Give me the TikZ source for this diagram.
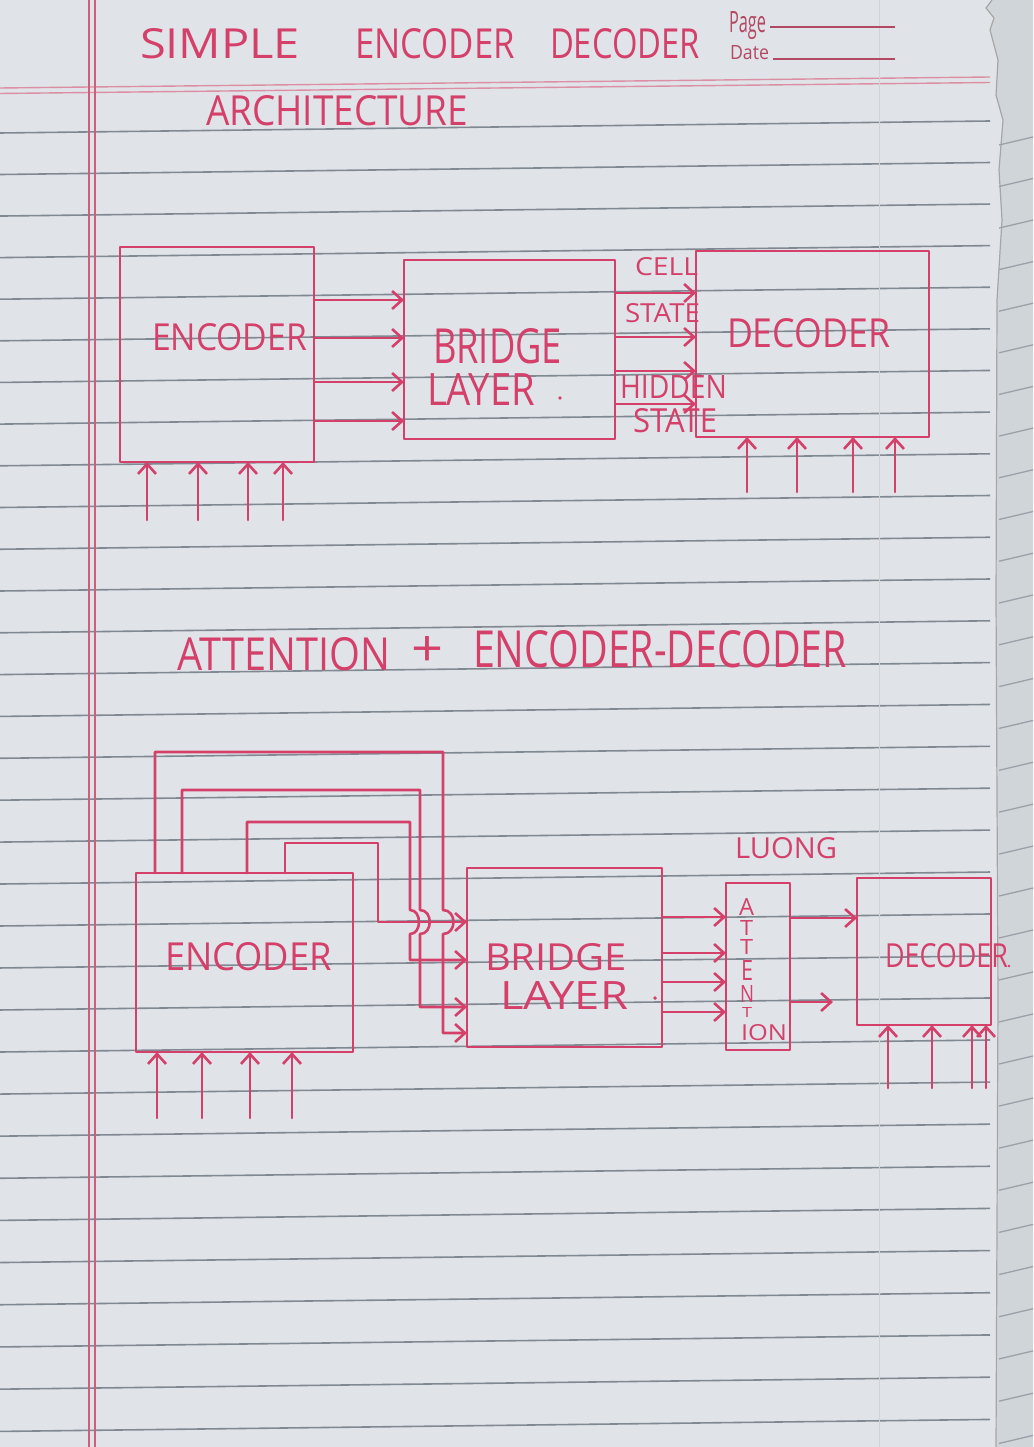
\documentclass[tikz,border=0pt]{standalone}
\usepackage{fontspec}
\setmainfont{Open Sans}
\usepackage{graphicx}
\usetikzlibrary{arrows.meta}
\definecolor{ink}{RGB}{212,64,106}
\definecolor{paper}{RGB}{224,228,232}
\definecolor{rulegray}{RGB}{128,137,146}
\definecolor{marginred}{RGB}{205,95,125}
\definecolor{printed}{RGB}{178,72,98}
\definecolor{strip}{RGB}{208,213,218}
\newcommand{\hw}[3]{\resizebox{#1pt}{#2pt}{#3}}
\begin{document}
\begin{tikzpicture}[x=1pt,y=-1pt,
  ink/.style={draw=ink,line width=2.6pt,line cap=round,line join=round},
  box/.style={ink,rectangle,inner sep=0pt,outer sep=0pt},
  arr/.style={ink,-{Straight Barb[length=10pt,width=18pt]}},
  txt/.style={text=ink,inner sep=0pt,outer sep=0pt,anchor=north west},
  prt/.style={text=printed,inner sep=0pt,outer sep=0pt,anchor=north west},
  dotmark/.style={circle,fill=ink,inner sep=1.4pt}]
% ---------- page ----------
\fill[paper] (0,0) rectangle (1033,1447);
\useasboundingbox (0,0) rectangle (1033,1447);
\fill[strip] (992,0) -- (986,8) -- (994,18) -- (990,30) -- (998,60) -- (996,95) -- (1003,120) -- (999,170) -- (1002,220) -- (997,300) -- (996,600) -- (998,1000) -- (996,1447) -- (1033,1447) -- (1033,0) -- cycle;
\draw[gray!70,line width=1.2pt] (992,0) -- (986,8) -- (994,18) -- (990,30) -- (998,60) -- (996,95) -- (1003,120) -- (999,170) -- (1002,220) -- (997,300) -- (996,600) -- (998,1000) -- (996,1447);
\foreach \k in {0,...,31}{
  \pgfmathsetmacro{\yy}{133+41.5*\k+0.0124*\k*\k}
  \draw[rulegray,line width=1.6pt] (0,\yy) -- (990,\yy-12);
  \draw[rulegray!80,line width=1.3pt] (999,\yy+12) -- (1033,\yy+4);
}
\draw[marginred!70,line width=1.4pt] (0,88) -- (990,77);
\draw[marginred!70,line width=1.4pt] (0,93.5) -- (990,82.5);
\draw[marginred,line width=1.1pt] (89,0) -- (89,1447);
\draw[marginred,line width=1.1pt] (95,0) -- (95,1447);
\draw[gray!35,line width=1pt] (879,0) -- (879,1447);
% printed header
\node[prt] (pg) at (729,12) {\hw{37}{21}{Page}};
\node[prt] (dt) at (730,46) {\hw{39}{14}{Date}};
\draw[printed,line width=1.4pt] (770,27) -- (895,27);
\draw[printed,line width=1.4pt] (773,59) -- (895,59);
% ---------- titles ----------
\node[txt] (t1) at (140,28) {\hw{160}{30}{SIMPLE}};
\node[txt] (t2) at (355,28) {\hw{160}{30}{ENCODER}};
\node[txt] (t3) at (550,28) {\hw{150}{30}{DECODER}};
\node[txt] (t4) at (206,95) {\hw{262}{30}{ARCHITECTURE}};
% ---------- simple encoder decoder ----------
\node[box,minimum width=194pt,minimum height=215pt] (enc1) at (217,354.5) {};
\node[box,minimum width=211pt,minimum height=179pt] (br1) at (509.5,349.5) {};
\node[box,minimum width=233pt,minimum height=186pt] (dec1) at (812.5,344) {};
\node[txt] (l1) at (152,323) {\hw{155}{27}{ENCODER}};
\node[txt] (l2) at (433,328) {\hw{129}{35}{BRIDGE}};
\node[txt] (l3) at (427,373) {\hw{108}{32}{LAYER}};
\node[dotmark] (d1) at (560,398) {};
\node[txt] (l4) at (727,318) {\hw{163}{29}{DECODER}};
\node[txt] (l5) at (635,257) {\hw{63}{18}{CELL}};
\node[txt] (l6) at (625,303) {\hw{75}{19}{STATE}};
\node[txt] (l7) at (620,375) {\hw{107}{23}{HIDDEN}};
\node[txt] (l8) at (633,408) {\hw{84}{24}{STATE}};
\foreach \y [count=\i] in {300,338,382,421}{
  \coordinate (eb\i) at (0,\y);
  \draw[arr] (enc1.east |- eb\i) -- (br1.west |- eb\i);
}
\foreach \y [count=\i] in {293,337,371,404}{
  \coordinate (bd\i) at (0,\y);
  \draw[arr] (br1.east |- bd\i) -- (dec1.west |- bd\i);
}
\foreach \x [count=\i] in {147,198,248,283}{
  \coordinate (ei\i) at (\x,520);
  \draw[arr] (ei\i) -- (ei\i |- enc1.south);
}
\foreach \x [count=\i] in {747,797,853,895}{
  \coordinate (di\i) at (\x,492);
  \draw[arr] (di\i) -- (di\i |- dec1.south);
}
% ---------- attention heading ----------
\node[txt] (h1) at (177,637) {\hw{213}{33}{ATTENTION}};
\node[txt] (h2) at (411,636) {\hw{32}{30}{+}};
\node[txt] (h3) at (473,630) {\hw{374}{37}{ENCODER-DECODER}};
% ---------- attention encoder decoder ----------
\node[box,minimum width=217pt,minimum height=179pt] (enc2) at (244.5,962.5) {};
\node[box,minimum width=195pt,minimum height=179pt] (br2) at (564.5,957.5) {};
\node[box,minimum width=64pt,minimum height=167pt] (att) at (758,966.5) {};
\node[box,minimum width=134pt,minimum height=147pt] (dec2) at (924,951.5) {};
\node[txt] (m1) at (165,942) {\hw{167}{28}{ENCODER}};
\node[txt] (m2) at (485,943) {\hw{142}{27}{BRIDGE}};
\node[txt] (m3) at (500,981) {\hw{128}{28}{LAYER}};
\node[dotmark] (d2) at (655,998) {};
\node[txt] (m4) at (885,943) {\hw{123}{24}{DECODER}};
\node[dotmark,inner sep=1pt] (d3) at (1009,966) {};
\node[txt] (m5) at (735,837) {\hw{102}{21}{LUONG}};
\node[txt] (a1) at (739,898) {\hw{15}{17}{A}};
\node[txt] (a2) at (740,920) {\hw{13}{15}{T}};
\node[txt] (a3) at (740,939) {\hw{13}{15}{T}};
\node[txt] (a4) at (741,960) {\hw{12}{20}{E}};
\node[txt] (a5) at (740,985) {\hw{14}{17}{N}};
\node[txt] (a6) at (742,1007) {\hw{10}{10}{T}};
\node[txt] (a7) at (741,1024) {\hw{46}{16}{ION}};
% feedback wires
\coordinate (vA) at (155,0); \coordinate (hA) at (0,1033);
\coordinate (vB) at (182,0); \coordinate (hB) at (0,1007);
\coordinate (vC) at (247,0); \coordinate (hC) at (0,960);
\coordinate (vD) at (285,0); \coordinate (hD) at (0,922);
\draw[arr] (enc2.north -| vD) -- (285,843) -- (378,843) -- (378,922) -- (br2.west |- hD);
\draw[arr] (enc2.north -| vC) -- (247,822) -- (410,822) -- (410,910) .. controls (422,910) and (422,934) .. (410,934) -- (410,960) -- (br2.west |- hC);
\draw[arr] (enc2.north -| vB) -- (182,790) -- (420,790) -- (420,910) .. controls (433,910) and (433,934) .. (420,934) -- (420,1007) -- (br2.west |- hB);
\draw[arr] (enc2.north -| vA) -- (155,752) -- (443,752) -- (443,910) .. controls (457,910) and (457,934) .. (443,934) -- (443,1033) -- (br2.west |- hA);
\foreach \y [count=\i] in {917,953,982,1012}{
  \coordinate (ba\i) at (0,\y);
  \draw[arr] (br2.east |- ba\i) -- (att.west |- ba\i);
}
\coordinate (ad1) at (0,918);
\draw[arr] (att.east |- ad1) -- (dec2.west |- ad1);
\coordinate (ad2) at (833,1002);
\draw[arr] (att.east |- ad2) -- (ad2);
\foreach \x [count=\i] in {157,202,250,292}{
  \coordinate (fi\i) at (\x,1118);
  \draw[arr] (fi\i) -- (fi\i |- enc2.south);
}
\foreach \x [count=\i] in {888,932,972,986}{
  \coordinate (gi\i) at (\x,1088);
  \draw[arr] (gi\i) -- (gi\i |- dec2.south);
}
\end{tikzpicture}
\end{document}
